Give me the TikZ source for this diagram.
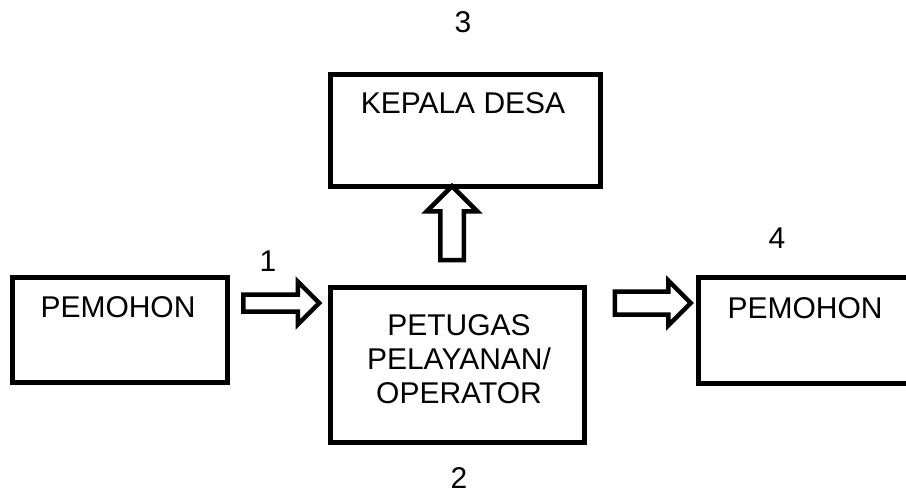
\documentclass[tikz,border=0pt]{standalone}
\usepackage{fontspec}
\setmainfont{Liberation Sans}
\usetikzlibrary{shapes.arrows}

\tikzset{
  kotak/.style={draw, line width=0.11cm, inner sep=0pt},
  panah/.style={single arrow, draw, fill=white, line width=0.09cm, inner xsep=0pt,
                single arrow head indent=0pt},
  teks/.style={font=\fontsize{17.07}{19.35}\selectfont, inner sep=0pt, align=center}
}

\begin{document}
\begin{tikzpicture}[x=0.02cm, y=-0.02cm]
  \clip (0,0) rectangle (906,495);
  % kotak
  \node[kotak, minimum width=4.3cm,  minimum height=2.1cm]  (pemohonA) at (120,330)   {};
  \node[kotak, minimum width=5.08cm, minimum height=3.1cm]  (petugas)  at (457.5,365) {};
  \node[kotak, minimum width=5.4cm,  minimum height=2.24cm] (kades)    at (465.5,130.5) {};
  \node[kotak, minimum width=4.6cm,  minimum height=2.12cm] (pemohonB) at (813.5,330.5) {};
  % teks
  \node[teks] (tpemohonA) at (118,307) {PEMOHON};
  \node[teks] (tpetugas)  at (459,359) {PETUGAS\\PELAYANAN/\\OPERATOR};
  \node[teks] (tkades)    at (463,103) {KEPALA DESA};
  \node[teks] (tpemohonB) at (805,308) {PEMOHON};
  % panah
  \node[panah, minimum height=1.52cm, inner ysep=0.125cm, single arrow head extend=0.255cm]
       (ar1) at (277,303) {};
  \node[panah, minimum height=1.52cm, inner ysep=0.185cm, single arrow head extend=0.22cm]
       (ar2) at (647,303) {};
  \node[panah, minimum height=1.48cm, inner ysep=0.19cm, single arrow head extend=0.27cm,
        rotate=90] (ar3) at (452,229) {};
  % nomor
  \foreach \n/\x/\y in {1/268/261, 2/459/478, 3/463/22, 4/777/238}
    \node[teks] (no\n) at (\x,\y) {\n};
\end{tikzpicture}
\end{document}
